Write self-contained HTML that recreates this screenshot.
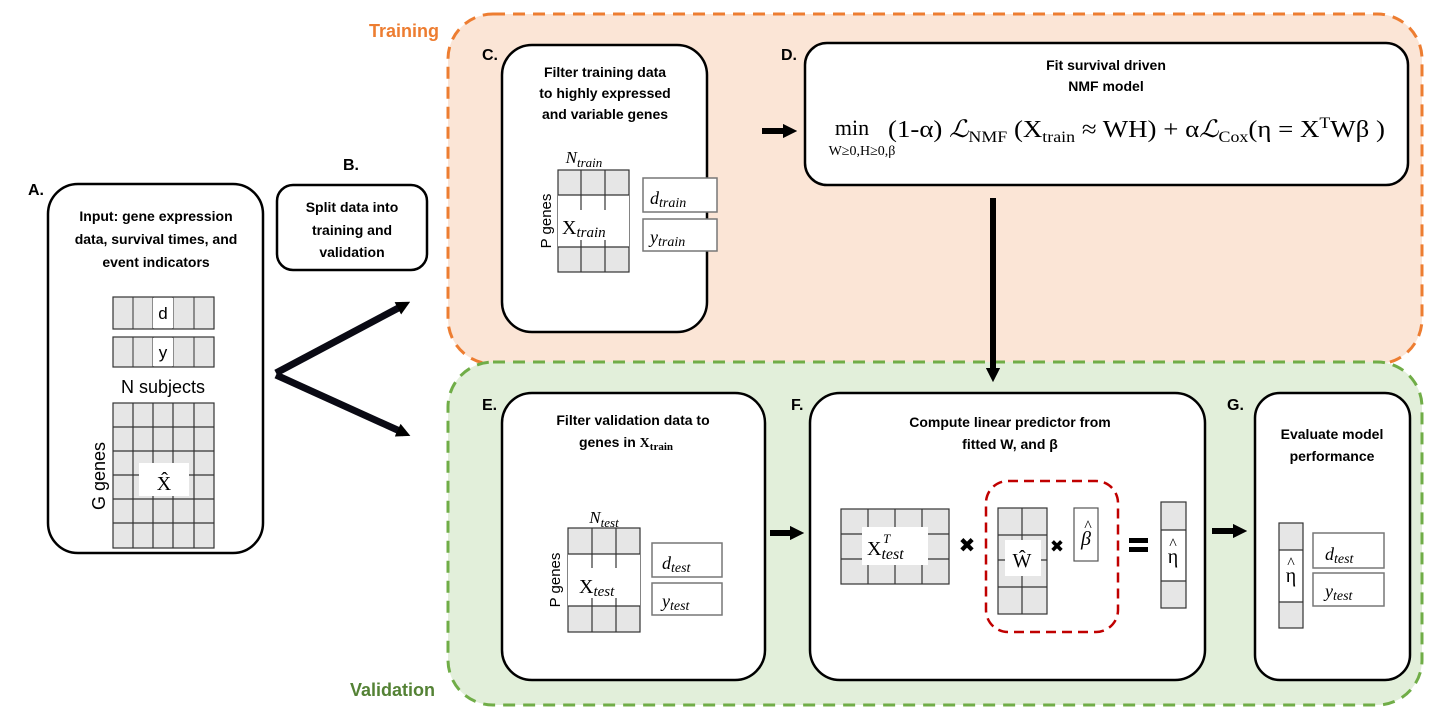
<!DOCTYPE html>
<html><head><meta charset="utf-8"><style>
html,body{margin:0;padding:0;background:#fff;}
svg{display:block;}
.t{font-family:"Liberation Sans",sans-serif;font-weight:bold;font-size:14px;fill:#000;}
.lb{font-family:"Liberation Sans",sans-serif;font-weight:bold;font-size:16px;fill:#000;}
.m{font-family:"Liberation Serif",serif;fill:#000;}
.g{fill:#e6e6e6;stroke:#333;stroke-width:1.2;}
.b{fill:#fff;stroke:#000;stroke-width:2.5;}
</style></head><body>
<svg width="1440" height="720" viewBox="0 0 1440 720" xmlns="http://www.w3.org/2000/svg">
<defs>
<marker id="ah" markerWidth="2.4" markerHeight="2.4" refX="1.2" refY="1.2" orient="auto" markerUnits="strokeWidth"><path d="M0,0 L2.4,1.2 L0,2.4z" fill="#000"/></marker>
<marker id="ah2" markerWidth="2" markerHeight="2" refX="1" refY="1" orient="auto" markerUnits="strokeWidth"><path d="M0,0 L2,1 L0,2z" fill="#000"/></marker>
</defs>
<rect x="448" y="14" width="974" height="350" rx="45" fill="#fbe5d6" stroke="#ed7d31" stroke-width="3" stroke-dasharray="12,8"/>
<rect x="448" y="362" width="974" height="343" rx="45" fill="#e2efda" stroke="#70ad47" stroke-width="3" stroke-dasharray="12,8"/>
<text x="369" y="37" font-family="Liberation Sans,sans-serif" font-weight="bold" font-size="18" fill="#ed7d31">Training</text>
<text x="350" y="696" font-family="Liberation Sans,sans-serif" font-weight="bold" font-size="18" fill="#548235">Validation</text>

<rect class="b" x="48" y="184" width="215" height="369" rx="30"/>
<rect class="b" x="277" y="185" width="150" height="85" rx="16"/>
<rect class="b" x="502" y="45" width="205" height="287" rx="30"/>
<rect class="b" x="805" y="43" width="603" height="142" rx="22"/>
<rect class="b" x="502" y="393" width="263" height="287" rx="30"/>
<rect class="b" x="810" y="393" width="395" height="287" rx="30"/>
<rect class="b" x="1255" y="393" width="155" height="287" rx="25"/>

<text class="lb" x="28" y="195">A.</text>
<text class="lb" x="343" y="170">B.</text>
<text class="lb" x="482" y="60">C.</text>
<text class="lb" x="781" y="60">D.</text>
<text class="lb" x="482" y="410">E.</text>
<text class="lb" x="791" y="410">F.</text>
<text class="lb" x="1227" y="410">G.</text>

<!-- A -->
<text class="t" text-anchor="middle" x="156" y="221">Input: gene expression</text>
<text class="t" text-anchor="middle" x="156" y="244">data, survival times, and</text>
<text class="t" text-anchor="middle" x="156" y="267">event indicators</text>
<rect class="g" x="113" y="297" width="101" height="32"/>
<g stroke="#333"><line x1="133" y1="297" x2="133" y2="329"/><line x1="153" y1="297" x2="153" y2="329"/><line x1="173" y1="297" x2="173" y2="329"/><line x1="194" y1="297" x2="194" y2="329"/></g>
<rect x="153" y="298" width="20" height="30" fill="#fff"/>
<text x="163" y="319" text-anchor="middle" font-size="17" font-family="Liberation Sans,sans-serif">d</text>
<rect class="g" x="113" y="337" width="101" height="30"/>
<g stroke="#333"><line x1="133" y1="337" x2="133" y2="367"/><line x1="153" y1="337" x2="153" y2="367"/><line x1="173" y1="337" x2="173" y2="367"/><line x1="194" y1="337" x2="194" y2="367"/></g>
<rect x="153" y="338" width="20" height="28" fill="#fff"/>
<text x="163" y="358" text-anchor="middle" font-size="17" font-family="Liberation Sans,sans-serif">y</text>
<text x="163" y="393" text-anchor="middle" font-size="18" font-family="Liberation Sans,sans-serif">N subjects</text>
<rect class="g" x="113" y="403" width="101" height="145"/>
<g stroke="#333" stroke-width="1.2">
<line x1="133" y1="403" x2="133" y2="548"/><line x1="153" y1="403" x2="153" y2="548"/><line x1="173" y1="403" x2="173" y2="548"/><line x1="194" y1="403" x2="194" y2="548"/>
<line x1="113" y1="427" x2="214" y2="427"/><line x1="113" y1="451" x2="214" y2="451"/><line x1="113" y1="475" x2="214" y2="475"/><line x1="113" y1="499" x2="214" y2="499"/><line x1="113" y1="523" x2="214" y2="523"/>
</g>
<rect x="139" y="463" width="50" height="33" fill="#fff"/>
<text class="m" x="164" y="490" text-anchor="middle" font-size="20">X̂</text>
<text x="105" y="476" text-anchor="middle" font-size="18" font-family="Liberation Sans,sans-serif" transform="rotate(-90 105 476)">G genes</text>

<!-- B -->
<text class="t" text-anchor="middle" x="352" y="212">Split data into</text>
<text class="t" text-anchor="middle" x="352" y="235">training and</text>
<text class="t" text-anchor="middle" x="352" y="257">validation</text>
<line x1="276" y1="373" x2="404" y2="305" stroke="#0a0a14" stroke-width="7" marker-end="url(#ah2)"/>
<line x1="276" y1="375" x2="404" y2="433" stroke="#0a0a14" stroke-width="7" marker-end="url(#ah2)"/>

<!-- C -->
<text class="t" text-anchor="middle" x="605" y="77">Filter training data</text>
<text class="t" text-anchor="middle" x="605" y="98">to highly expressed</text>
<text class="t" text-anchor="middle" x="605" y="119">and variable genes</text>
<text class="m" x="584" y="163" text-anchor="middle" font-size="17" font-style="italic">N<tspan font-size="13" dy="4">train</tspan></text>
<rect class="g" x="558" y="170" width="71" height="102"/>
<rect x="558" y="195" width="71" height="52" fill="#fff"/>
<g stroke="#333" stroke-width="1.2"><line x1="581" y1="170" x2="581" y2="272"/><line x1="605" y1="170" x2="605" y2="272"/><line x1="558" y1="195" x2="629" y2="195"/><line x1="558" y1="247" x2="629" y2="247"/></g>
<rect x="560" y="210" width="68" height="30" fill="#fff"/>
<text class="m" x="562" y="234" font-size="20">X<tspan font-size="15" font-style="italic" dy="3">train</tspan></text>
<text x="551" y="221" text-anchor="middle" font-size="15" font-family="Liberation Sans,sans-serif" transform="rotate(-90 551 221)">P genes</text>
<rect x="643" y="178" width="74" height="34" fill="#fff" stroke="#777" stroke-width="1.5"/>
<text class="m" x="650" y="204" font-size="18" font-style="italic">d<tspan font-size="14" dy="3">train</tspan></text>
<rect x="643" y="219" width="74" height="32" fill="#fff" stroke="#777" stroke-width="1.5"/>
<text class="m" x="650" y="243" font-size="18" font-style="italic">y<tspan font-size="14" dy="3">train</tspan></text>
<line x1="762" y1="131" x2="790" y2="131" stroke="#000" stroke-width="6" marker-end="url(#ah)"/>

<!-- D -->
<text class="t" text-anchor="middle" x="1106" y="70">Fit survival driven</text>
<text class="t" text-anchor="middle" x="1106" y="91">NMF model</text>
<text class="m" x="852" y="135" font-size="22" text-anchor="middle">min</text>
<text class="m" x="862" y="155" font-size="14" text-anchor="middle">W≥0,H≥0,β</text>
<text class="m" x="888" y="137" font-size="24" textLength="497" lengthAdjust="spacingAndGlyphs">(1-α) <tspan font-style="italic">ℒ</tspan><tspan font-size="16" dy="5">NMF</tspan><tspan dy="-5"> (X</tspan><tspan font-size="16" dy="5">train</tspan><tspan dy="-5"> ≈ WH) + α</tspan><tspan font-style="italic">ℒ</tspan><tspan font-size="16" dy="5">Cox</tspan><tspan dy="-5">(η = X</tspan><tspan font-size="16" dy="-9">T</tspan><tspan dy="9">Wβ )</tspan></text>
<line x1="993" y1="198" x2="993" y2="375" stroke="#000" stroke-width="6" marker-end="url(#ah)"/>

<!-- E -->
<text class="t" text-anchor="middle" x="633" y="425">Filter validation data to</text>
<text class="t" text-anchor="middle" x="626" y="447">genes in <tspan font-family="Liberation Serif,serif">X<tspan font-size="11" dy="3">train</tspan></tspan></text>
<text class="m" x="604" y="523" text-anchor="middle" font-size="17" font-style="italic">N<tspan font-size="13" dy="4">test</tspan></text>
<rect class="g" x="568" y="528" width="72" height="104"/>
<rect x="568" y="554" width="72" height="52" fill="#fff"/>
<g stroke="#333" stroke-width="1.2"><line x1="592" y1="528" x2="592" y2="632"/><line x1="616" y1="528" x2="616" y2="632"/><line x1="568" y1="554" x2="640" y2="554"/><line x1="568" y1="606" x2="640" y2="606"/></g>
<rect x="571" y="568" width="67" height="30" fill="#fff"/>
<text class="m" x="579" y="593" font-size="20">X<tspan font-size="15" font-style="italic" dy="3">test</tspan></text>
<text x="560" y="580" text-anchor="middle" font-size="15" font-family="Liberation Sans,sans-serif" transform="rotate(-90 560 580)">P genes</text>
<rect x="652" y="543" width="70" height="34" fill="#fff" stroke="#777" stroke-width="1.5"/>
<text class="m" x="662" y="569" font-size="18" font-style="italic">d<tspan font-size="14" dy="3">test</tspan></text>
<rect x="652" y="583" width="70" height="32" fill="#fff" stroke="#777" stroke-width="1.5"/>
<text class="m" x="662" y="607" font-size="18" font-style="italic">y<tspan font-size="14" dy="3">test</tspan></text>
<line x1="770" y1="533" x2="797" y2="533" stroke="#000" stroke-width="6" marker-end="url(#ah)"/>

<!-- F -->
<text class="t" text-anchor="middle" x="1010" y="427">Compute linear predictor from</text>
<text class="t" text-anchor="middle" x="1010" y="449">fitted W, and β</text>
<rect class="g" x="841" y="509" width="108" height="75"/>
<g stroke="#333" stroke-width="1.2"><line x1="868" y1="509" x2="868" y2="584"/><line x1="895" y1="509" x2="895" y2="584"/><line x1="922" y1="509" x2="922" y2="584"/><line x1="841" y1="534" x2="949" y2="534"/><line x1="841" y1="559" x2="949" y2="559"/></g>
<rect x="862" y="527" width="66" height="38" fill="#fff"/>
<text class="m" x="867" y="555" font-size="20">X<tspan font-size="16" font-style="italic" dy="4">test</tspan></text>
<text class="m" x="883" y="543" font-size="13" font-style="italic">T</text>
<text x="967" y="552" text-anchor="middle" font-size="20" font-weight="bold" font-family="DejaVu Sans,sans-serif">✖</text>
<rect x="986" y="481" width="132" height="151" rx="22" fill="none" stroke="#c00000" stroke-width="2.5" stroke-dasharray="10,6"/>
<rect class="g" x="998" y="508" width="49" height="106"/>
<g stroke="#333" stroke-width="1.2"><line x1="1022" y1="508" x2="1022" y2="614"/><line x1="998" y1="535" x2="1047" y2="535"/><line x1="998" y1="560" x2="1047" y2="560"/><line x1="998" y1="587" x2="1047" y2="587"/></g>
<rect x="1005" y="540" width="36" height="36" fill="#fff"/>
<text class="m" x="1022" y="567" text-anchor="middle" font-size="20">Ŵ</text>
<text x="1057" y="552" text-anchor="middle" font-size="17" font-weight="bold" font-family="DejaVu Sans,sans-serif">✖</text>
<rect x="1074" y="508" width="24" height="53" fill="#fff" stroke="#555" stroke-width="1.2"/>
<text class="m" x="1086" y="545" text-anchor="middle" font-size="20" font-style="italic">β</text>
<text class="m" x="1088" y="531" text-anchor="middle" font-size="16">^</text>
<rect x="1129" y="538" width="19" height="5" fill="#000"/><rect x="1129" y="547" width="19" height="5" fill="#000"/>
<rect class="g" x="1161" y="502" width="25" height="106"/>
<rect x="1162" y="530" width="23" height="51" fill="#fff"/>
<g stroke="#333" stroke-width="1.2"><line x1="1161" y1="530" x2="1186" y2="530"/><line x1="1161" y1="581" x2="1186" y2="581"/></g>
<text class="m" x="1173" y="563" text-anchor="middle" font-size="20">η</text>
<text class="m" x="1173" y="549" text-anchor="middle" font-size="16">^</text>
<line x1="1212" y1="531" x2="1240" y2="531" stroke="#000" stroke-width="6" marker-end="url(#ah)"/>

<!-- G -->
<text class="t" text-anchor="middle" x="1332" y="439">Evaluate model</text>
<text class="t" text-anchor="middle" x="1332" y="461">performance</text>
<rect class="g" x="1279" y="523" width="24" height="105"/>
<rect x="1280" y="550" width="22" height="52" fill="#fff"/>
<g stroke="#333" stroke-width="1.2"><line x1="1279" y1="550" x2="1303" y2="550"/><line x1="1279" y1="602" x2="1303" y2="602"/></g>
<text class="m" x="1291" y="582" text-anchor="middle" font-size="20">η</text>
<text class="m" x="1291" y="568" text-anchor="middle" font-size="16">^</text>
<rect x="1313" y="533" width="71" height="35" fill="#fff" stroke="#777" stroke-width="1.5"/>
<text class="m" x="1325" y="560" font-size="18" font-style="italic">d<tspan font-size="14" dy="3">test</tspan></text>
<rect x="1313" y="573" width="71" height="33" fill="#fff" stroke="#777" stroke-width="1.5"/>
<text class="m" x="1325" y="597" font-size="18" font-style="italic">y<tspan font-size="14" dy="3">test</tspan></text>
</svg>
</body></html>
